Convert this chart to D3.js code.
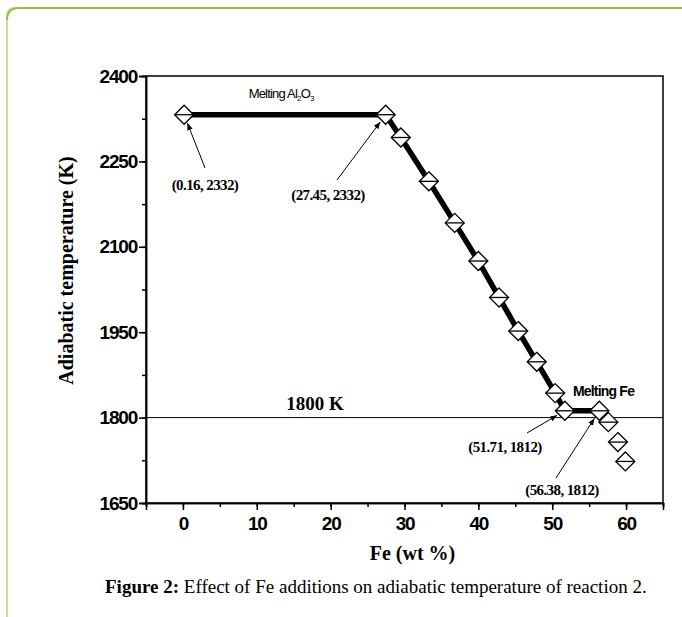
<!DOCTYPE html>
<html>
<head>
<meta charset="utf-8">
<script src="https://cdn.jsdelivr.net/npm/d3@7"></script>
<style>
  body { margin: 0; background: #fff; }
  svg { display: block; }
  .tick-num { font-family: "Liberation Sans", Arial, sans-serif; font-weight: bold; font-size: 19px; letter-spacing: -1.2px; }
  .serif { font-family: "Liberation Serif", "Times New Roman", serif; font-weight: bold; }
  .note { font-family: "Liberation Sans", Arial, sans-serif; font-size: 12px; letter-spacing: -0.8px; }
</style>
</head>
<body>
<div id="chart"></div>
<script>
// Fe content (wt %) and adiabatic temperature (K)
const feWt   = [0.16, 27.45, 29.5, 33.3, 36.8, 40.0, 42.8, 45.4, 47.9, 50.4, 51.71, 56.38, 57.6, 58.9, 59.9];
const tempK  = [2332, 2332, 2292, 2215, 2142, 2075, 2011, 1952, 1898, 1843, 1812, 1812, 1792, 1757, 1723];
const lineCount = 12; // thick line joins the first 12 points only

const xTicks = [0, 10, 20, 30, 40, 50, 60];
const yTicks = [1650, 1800, 1950, 2100, 2250, 2400];

const notes = [
  { text: "(0.16, 2332)",  x: 0.16,  y: 2332, lx: 205, ly: 190, tx: 205, ty: 168 },
  { text: "(27.45, 2332)", x: 27.45, y: 2332, lx: 328, ly: 200, tx: 337, ty: 180 },
  { text: "(51.71, 1812)", x: 51.71, y: 1812, lx: 505, ly: 452, tx: 527, ty: 433 },
  { text: "(56.38, 1812)", x: 56.38, y: 1812, lx: 562, ly: 495, tx: 556, ty: 478 }
];

const W = 682, H = 617;
const margin = { top: 76, left: 146, right: 19, bottom: 114 };
const width = W - margin.left - margin.right;
const height = H - margin.top - margin.bottom;

const svg = d3.select("#chart").append("svg")
  .attr("width", W)
  .attr("height", H);

// green page frame
svg.append("path")
  .attr("d", "M7,640 L7,16 Q7,8 15,8 L700,8")
  .attr("fill", "none")
  .attr("stroke", "#c4e1a4")
  .attr("stroke-width", 2);
svg.append("path")
  .attr("d", "M7,20 Q7,8 19,8 L700,8")
  .attr("fill", "none")
  .attr("stroke", "#8cc63f")
  .attr("stroke-width", 2);

svg.append("defs").append("marker")
  .attr("id", "arrow")
  .attr("viewBox", "0 0 10 10")
  .attr("refX", 10).attr("refY", 5)
  .attr("markerWidth", 7).attr("markerHeight", 7)
  .attr("orient", "auto")
  .append("path")
  .attr("d", "M0,1 L10,5 L0,9 Z")
  .attr("fill", "#000");

const xScale = d3.scaleLinear().domain([-5, 65]).range([0, width]);
const yScale = d3.scaleLinear().domain([1650, 2400]).range([height, 0]);

const chart = svg.append("g")
  .attr("transform", `translate(${margin.left}, ${margin.top})`);

// frame
chart.append("rect")
  .attr("width", width)
  .attr("height", height)
  .attr("fill", "none")
  .attr("stroke", "#000")
  .attr("stroke-width", 1.5);

// minor ticks
const xAxisMinor = d3.axisBottom(xScale).tickValues(d3.range(-5, 66, 5)).tickSize(4).tickFormat("");
const yAxisMinor = d3.axisLeft(yScale).tickValues(d3.range(1650, 2401, 75)).tickSize(4).tickFormat("");
chart.append("g").attr("transform", `translate(0, ${height})`).call(xAxisMinor);
chart.append("g").call(yAxisMinor);

const xAxis = d3.axisBottom(xScale).tickValues(xTicks).tickSize(7).tickPadding(7).tickFormat(d3.format("d"));
const yAxis = d3.axisLeft(yScale).tickValues(yTicks).tickSize(7).tickPadding(2).tickFormat(d3.format("d"));

chart.append("g")
  .attr("class", "x axis")
  .attr("transform", `translate(0, ${height})`)
  .call(xAxis);
chart.append("g")
  .attr("class", "y axis")
  .call(yAxis);

chart.selectAll(".axis path, .domain").attr("stroke-width", 1.5);
chart.selectAll(".tick line").attr("stroke-width", 1.5);
chart.selectAll(".axis text")
  .attr("class", "tick-num")
  .attr("fill", "#000");

// axis titles
chart.append("text")
  .attr("class", "serif")
  .attr("x", width / 2 + 8)
  .attr("y", height + 57)
  .attr("text-anchor", "middle")
  .style("font-size", "20px")
  .text("Fe (wt %)");

chart.append("text")
  .attr("class", "serif")
  .attr("transform", `translate(${-73}, ${height / 2 - 19}) rotate(-90)`)
  .attr("text-anchor", "middle")
  .style("font-size", "20px")
  .text("Adiabatic temperature (K)");

// 1800 K reference line
chart.append("line")
  .attr("x1", 0).attr("x2", width)
  .attr("y1", yScale(1800)).attr("y2", yScale(1800))
  .attr("stroke", "#000")
  .attr("stroke-width", 1);
chart.append("text")
  .attr("class", "serif")
  .attr("x", xScale(14))
  .attr("y", yScale(1800) - 8)
  .style("font-size", "19px")
  .text("1800 K");

const points = feWt.map((v, i) => ({ x: v, y: tempK[i] }));

const line = d3.line()
  .x(d => xScale(d.x))
  .y(d => yScale(d.y));

chart.append("path")
  .datum(points.slice(0, lineCount))
  .attr("d", line)
  .attr("fill", "none")
  .attr("stroke", "#000")
  .attr("stroke-width", 5.5);

// diamond markers with a horizontal bar
const r = 9.5;
const marks = chart.selectAll(".dot")
  .data(points)
  .enter().append("g")
  .attr("class", "dot")
  .attr("transform", d => `translate(${xScale(d.x)}, ${yScale(d.y)})`);
marks.append("path")
  .attr("d", `M0,${-r} L${r},0 L0,${r} L${-r},0 Z`)
  .attr("fill", "#fff")
  .attr("stroke", "#000")
  .attr("stroke-width", 1.3);
marks.append("line")
  .attr("x1", -r).attr("x2", r)
  .attr("y1", 0).attr("y2", 0)
  .attr("stroke", "#000")
  .attr("stroke-width", 1.3);

// melting labels
const alLabel = chart.append("text")
  .attr("class", "note")
  .attr("x", xScale(8.9))
  .attr("y", yScale(2362))
  .style("font-size", "13px");
alLabel.append("tspan").text("Melting Al");
alLabel.append("tspan").attr("dy", 3).style("font-size", "8px").text("2");
alLabel.append("tspan").attr("dy", -3).text("O");
alLabel.append("tspan").attr("dy", 3).style("font-size", "8px").text("3");

chart.append("text")
  .attr("class", "note")
  .attr("x", xScale(52.8))
  .attr("y", yScale(1838))
  .style("font-size", "14px")
  .style("font-weight", "bold")
  .text("Melting Fe");

// point annotations with arrows
notes.forEach(n => {
  chart.append("text")
    .attr("class", "serif")
    .attr("x", n.lx - margin.left)
    .attr("y", n.ly - margin.top)
    .attr("text-anchor", "middle")
    .style("font-size", "15px")
    .style("letter-spacing", "-0.6px")
    .text(n.text);
  const px = xScale(n.x), py = yScale(n.y);
  const sx = n.tx - margin.left, sy = n.ty - margin.top;
  const dx = px - sx, dy = py - sy, len = Math.hypot(dx, dy);
  chart.append("line")
    .attr("x1", sx).attr("y1", sy)
    .attr("x2", px - dx / len * 9).attr("y2", py - dy / len * 9)
    .attr("stroke", "#000")
    .attr("stroke-width", 1)
    .attr("marker-end", "url(#arrow)");
});

// caption
const cap = svg.append("text")
  .attr("x", 105)
  .attr("y", 593)
  .style("font-family", "'Liberation Serif', 'Times New Roman', serif")
  .style("font-size", "19px");
cap.append("tspan").style("font-weight", "bold").text("Figure 2:");
cap.append("tspan").text(" Effect of Fe additions on adiabatic temperature of reaction 2.");
</script>
</body>
</html>
